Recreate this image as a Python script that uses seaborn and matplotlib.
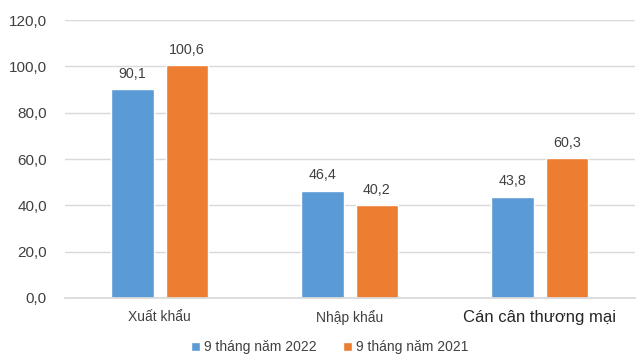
import matplotlib
matplotlib.use("Agg")
import matplotlib.pyplot as plt
import seaborn as sns
import pandas as pd
from matplotlib.patches import Patch

categories = ["Xuất khẩu", "Nhập khẩu", "Cán cân thương mại"]
series_names = ["9 tháng năm 2022", "9 tháng năm 2021"]
values_2022 = [90.1, 46.4, 43.8]
values_2021 = [100.6, 40.2, 60.3]
yticks = [0, 20, 40, 60, 80, 100, 120]

colors = ["#5B9BD5", "#ED7D31"]
text_color = "#404040"

df = pd.DataFrame({
    "cat": categories * 2,
    "series": [series_names[0]] * 3 + [series_names[1]] * 3,
    "value": values_2022 + values_2021,
})

sns.set_theme(style="white")
plt.rcParams["font.family"] = ["Liberation Sans", "DejaVu Sans"]

fig = plt.figure(figsize=(6.36, 3.59), dpi=100)
ax = fig.add_axes([0.102, 0.170, 0.896, 0.774])

sns.barplot(data=df, x="cat", y="value", hue="series", palette=colors,
            width=0.572, gap=0.215, ax=ax, legend=False, saturation=1)

for container in ax.containers:
    labels = [f"{b.get_height():.1f}".replace(".", ",") for b in container]
    ax.bar_label(container, labels=labels, padding=6, fontsize=10.3, color=text_color)

ax.set_ylim(0, 120)
ax.set_xlim(-0.5, 2.5)
ax.set_yticks(yticks)
ax.set_yticklabels([f"{t:.1f}".replace(".", ",") for t in yticks], fontsize=11, color=text_color)
ax.yaxis.grid(True, color="#D9D9D9", linewidth=1)
ax.set_axisbelow(True)
ax.tick_params(axis="y", length=0, pad=13)
ax.tick_params(axis="x", length=0, pad=9)
ax.set_xlabel("")
ax.set_ylabel("")
ax.set_xticks(range(3))
ax.set_xticklabels(categories, fontsize=10, color=text_color)
ax.get_xticklabels()[2].set_fontsize(12)
ax.get_xticklabels()[2].set_color("#262626")
for s in ["top", "right", "left"]:
    ax.spines[s].set_visible(False)
ax.spines["bottom"].set_color("#D9D9D9")

handles = [Patch(facecolor=c, label=n) for c, n in zip(colors, series_names)]
fig.legend(handles=handles, loc="center", bbox_to_anchor=(0.518, 0.033), ncol=2,
           frameon=False, fontsize=10, handlelength=0.65, handleheight=0.65,
           handletextpad=0.3, columnspacing=1.9, labelcolor=text_color)

fig.savefig("out.png", dpi=100)
